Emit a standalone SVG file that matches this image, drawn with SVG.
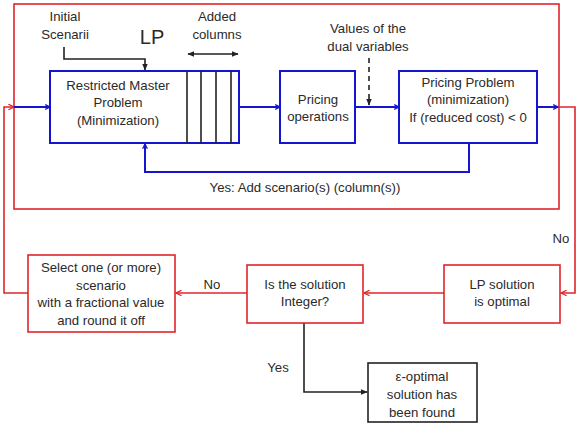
<svg xmlns="http://www.w3.org/2000/svg" width="579" height="428" viewBox="0 0 579 428">
<defs>
<style>
text{font-family:"Liberation Sans",Arial,sans-serif;font-size:13.2px;fill:#2a2a2a;text-anchor:middle}
.blue{fill:#fff;stroke:#1515d0;stroke-width:2}
.red{fill:#fff;stroke:#e0252b;stroke-width:1.6}
.blk{fill:#fff;stroke:#222;stroke-width:1.6}
.lb{fill:none;stroke:#1515d0;stroke-width:2}
.lr{fill:none;stroke:#e0252b;stroke-width:1.6}
.lk{fill:none;stroke:#222;stroke-width:1.6}
</style>
<marker id="ab" viewBox="0 0 10 10" refX="9" refY="5" markerWidth="6" markerHeight="6" orient="auto-start-reverse" markerUnits="userSpaceOnUse"><path d="M1,1 L9,5 L1,9" fill="none" stroke="#1515d0" stroke-width="2"/></marker>
<marker id="ar" viewBox="0 0 10 10" refX="9" refY="5" markerWidth="7" markerHeight="7" orient="auto-start-reverse" markerUnits="userSpaceOnUse"><path d="M1,1 L9,5 L1,9" fill="none" stroke="#e0252b" stroke-width="1.8"/></marker>
<marker id="ak" viewBox="0 0 10 10" refX="9" refY="5" markerWidth="7" markerHeight="7" orient="auto-start-reverse" markerUnits="userSpaceOnUse"><path d="M0,1 L10,5 L0,9 Z" fill="#222"/></marker>
</defs>
<rect width="579" height="428" fill="#fff"/>
<g id="frame"><rect x="14" y="4" width="545" height="205" class="lr"/></g>
<g id="connectors">
<polyline points="28,293 4,293 4,107 14,107" class="lr" marker-end="url(#ar)"/>
<line x1="14" y1="107" x2="50" y2="107" class="lb" marker-end="url(#ab)"/>
<polyline points="64,47 64,59 145,59 145,70" class="lk" marker-end="url(#ak)"/>
<line x1="188" y1="54" x2="238" y2="54" class="lk" marker-start="url(#ak)" marker-end="url(#ak)"/>
<line x1="239" y1="107" x2="280" y2="107" class="lb" marker-end="url(#ab)"/>
<line x1="355" y1="107" x2="399" y2="107" class="lb" marker-end="url(#ab)"/>
<line x1="369" y1="58" x2="369" y2="105" class="lk" stroke-dasharray="5,4" marker-end="url(#ak)"/>
<line x1="537" y1="107" x2="558" y2="107" class="lb" marker-end="url(#ab)"/>
<polyline points="559,107 575,107 575,293 561,293" class="lr" marker-end="url(#ar)"/>
<polyline points="469,143 469,172 145,172 145,144" class="lb" marker-end="url(#ab)"/>
<line x1="444" y1="293" x2="364" y2="293" class="lr" marker-end="url(#ar)"/>
<line x1="247" y1="293" x2="176" y2="293" class="lr" marker-end="url(#ar)"/>
<polyline points="304,323 304,392 367,392" class="lk" marker-end="url(#ak)"/>
<text x="305" y="192">Yes: Add scenario(s) (column(s))</text>
<text x="561" y="243">No</text>
<text x="212" y="289">No</text>
<text x="278" y="372">Yes</text>
<text x="368" y="33">Values of the</text>
<text x="368" y="51">dual variables</text>
<text x="65" y="21">Initial</text>
<text x="65" y="39">Scenarii</text>
<text x="217" y="21">Added</text>
<text x="217" y="39">columns</text>
<text x="152" y="44" style="font-size:20px">LP</text>
</g>
<g id="rmp">
<rect x="50" y="71" width="189" height="72" class="blue"/>
<line x1="187" y1="71" x2="187" y2="143" class="lk" stroke-width="2"/>
<line x1="201" y1="71" x2="201" y2="143" class="lk" stroke-width="2"/>
<line x1="216" y1="71" x2="216" y2="143" class="lk" stroke-width="2"/>
<line x1="231" y1="71" x2="231" y2="143" class="lk" stroke-width="2"/>
<text x="118" y="90">Restricted Master</text>
<text x="118" y="107">Problem</text>
<text x="118" y="125">(Minimization)</text>
</g>
<g id="pricing-ops">
<rect x="280" y="71" width="75" height="72" class="blue"/>
<text x="318" y="104">Pricing</text>
<text x="318" y="121">operations</text>
</g>
<g id="pricing-problem">
<rect x="399" y="71" width="138" height="72" class="blue"/>
<text x="468" y="87">Pricing Problem</text>
<text x="468" y="104">(minimization)</text>
<text x="468" y="122">If (reduced cost) &lt; 0</text>
</g>
<g id="lp-optimal">
<rect x="444" y="265" width="116" height="58" class="red"/>
<text x="502" y="289">LP solution</text>
<text x="502" y="306">is optimal</text>
</g>
<g id="integer">
<rect x="247" y="265" width="116" height="58" class="red"/>
<text x="305" y="289">Is the solution</text>
<text x="305" y="306">Integer?</text>
</g>
<g id="select">
<rect x="28" y="255" width="147" height="77" class="red"/>
<text x="101" y="272">Select one (or more)</text>
<text x="101" y="290">scenario</text>
<text x="101" y="307">with a fractional value</text>
<text x="101" y="325">and round it off</text>
</g>
<g id="eps">
<rect x="368" y="363" width="109" height="59" class="blk"/>
<text x="422" y="381">ε-optimal</text>
<text x="422" y="399">solution has</text>
<text x="422" y="417">been found</text>
</g>
</svg>
